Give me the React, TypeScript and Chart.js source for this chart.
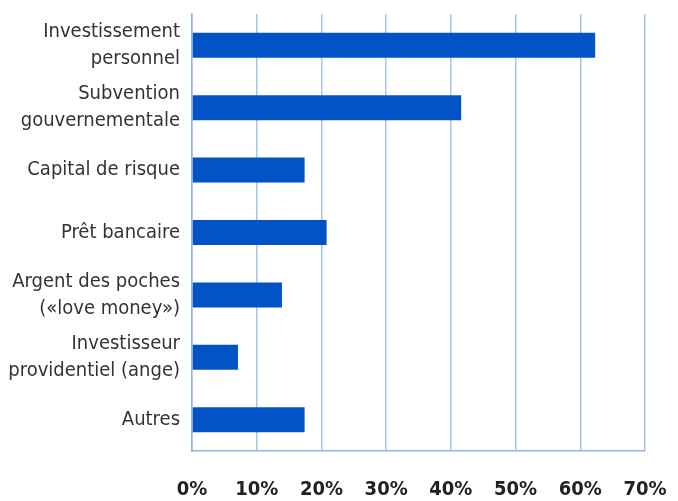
import React, { useEffect, useRef } from "react";
import { Chart, registerables } from "chart.js";

Chart.register(...registerables);

// Sources de financement (part des répondants, %)
const categories: string[][] = [
  ["Investissement", "personnel"],
  ["Subvention", "gouvernementale"],
  ["Capital de risque"],
  ["Prêt bancaire"],
  ["Argent des poches", "(«love money»)"],
  ["Investisseur", "providentiel (ange)"],
  ["Autres"],
];
const shares: number[] = [62.3, 41.6, 17.4, 20.8, 13.9, 7.1, 17.4];
const tickValues: number[] = [0, 10, 20, 30, 40, 50, 60, 70];

const FONT = "'DejaVu Sans Condensed', 'DejaVu Sans', sans-serif";

export default function App() {
  const canvasRef = useRef<HTMLCanvasElement | null>(null);

  useEffect(() => {
    if (!canvasRef.current) return;
    const chart = new Chart(canvasRef.current, {
      type: "bar",
      data: {
        labels: categories,
        datasets: [
          {
            data: shares,
            backgroundColor: "#0253c6",
            borderWidth: 0,
            barPercentage: 0.4,
            categoryPercentage: 1,
          },
        ],
      },
      options: {
        indexAxis: "y",
        animation: false,
        responsive: false,
        maintainAspectRatio: false,
        layout: { padding: { top: 14, right: 33, left: 0, bottom: 0 } },
        plugins: {
          legend: { display: false },
          tooltip: { enabled: false },
        },
        scales: {
          x: {
            min: 0,
            max: 70,
            afterBuildTicks: (scale: any) => {
              scale.ticks = tickValues.map((v) => ({ value: v }));
            },
            afterFit: (scale: any) => {
              scale.height = 50;
              scale.paddingLeft = 0;
              scale.paddingRight = 0;
            },
            grid: {
              color: "#a6c4ec",
              lineWidth: 1.5,
              drawTicks: false,
            },
            border: { display: true, color: "#8fb4e8", width: 1.5 },
            ticks: {
              padding: 27,
              color: "#222222",
              font: { family: FONT, size: 20, weight: "bold" },
              callback: (v: any) => `${v}%`,
              maxRotation: 0,
            },
          },
          y: {
            afterFit: (scale: any) => {
              scale.width = 192;
              scale.paddingTop = 0;
              scale.paddingBottom = 0;
            },
            grid: { display: false, drawTicks: false },
            border: { display: true, color: "#8fb4e8", width: 1.5 },
            ticks: {
              padding: 12,
              color: "#333333",
              font: { family: FONT, size: 20, lineHeight: 1.35 },
            },
          },
        },
      },
    });
    return () => chart.destroy();
  }, []);

  return (
    <div style={{ position: "fixed", left: 0, top: 0, width: 678, height: 501, background: "#ffffff" }}>
      <canvas ref={canvasRef} width={678} height={501} style={{ width: 678, height: 501 }} />
    </div>
  );
}
